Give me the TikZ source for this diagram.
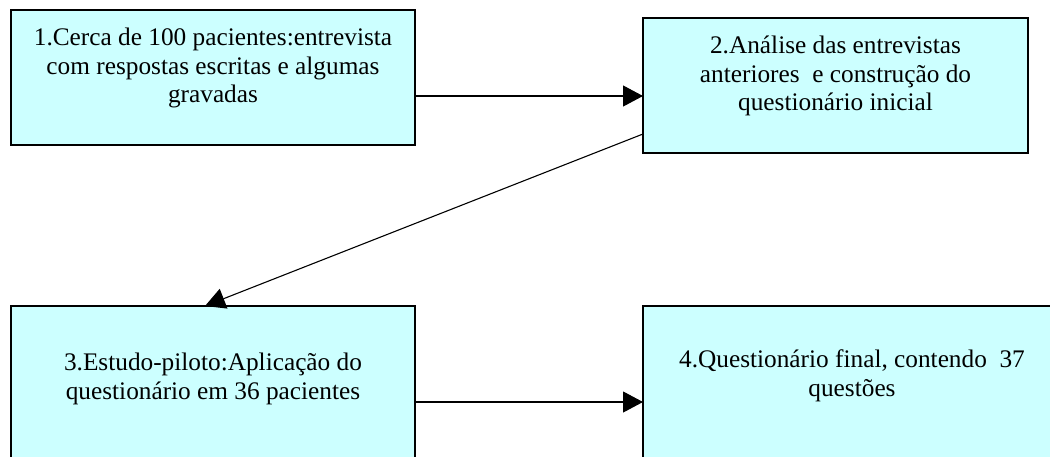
\documentclass[tikz,border=0pt]{standalone}
\usepackage{fontspec}
\setmainfont{Liberation Serif}
\usetikzlibrary{arrows.meta,positioning}
\definecolor{boxcyan}{RGB}{204,255,255}

\begin{document}
\begin{tikzpicture}[x=1pt,y=1pt,
  box/.style={rectangle,draw,line width=1.3pt,fill=boxcyan,inner sep=0pt,outer sep=0pt},
  lbl/.style={align=center,inner sep=0pt,font=\fontsize{25.3}{28.8}\selectfont},
  conn/.style={line width=1.1pt,-{Triangle[length=20pt,width=21pt]}}]
  \clip (0,0) rectangle (1050,-456);
  \node[box,minimum width=404pt,minimum height=135pt] (b_1) at (213,-77.5) {};
  \node[box,minimum width=385pt,minimum height=135pt] (b_2) at (835.5,-85.5) {};
  \node[box,minimum width=404pt,minimum height=160pt] (b_3) at (213,-386) {};
  \node[box,minimum width=418pt,minimum height=160pt] (b_4) at (852,-386) {};
  \node[lbl] (t_1) [below=15pt of b_1.north]
    {\strut 1.Cerca de 100 pacientes:entrevista\\com respostas escritas e algumas\\gravadas};
  \node[lbl] (t_2) [below=15pt of b_2.north]
    {\strut 2.Análise das entrevistas\\anteriores\ \ e construção do\\questionário inicial};
  \node[lbl] (t_3) [below=44pt of b_3.north]
    {\strut 3.Estudo-piloto:Aplicação do\\questionário em 36 pacientes};
  \node[lbl] (t_4) [below=41pt of b_4.north]
    {\strut 4.Questionário final, contendo\ \ 37\\questões};
  \draw[conn] ([yshift=-18.5pt]b_1.east) -- ([yshift=-10.5pt]b_2.west);
  \draw[conn] ([yshift=-48.5pt]b_2.west) -- ([xshift=-8pt]b_3.north);
  \draw[conn] ([yshift=-16pt]b_3.east) -- ([yshift=-16pt]b_4.west);
\end{tikzpicture}
\end{document}
